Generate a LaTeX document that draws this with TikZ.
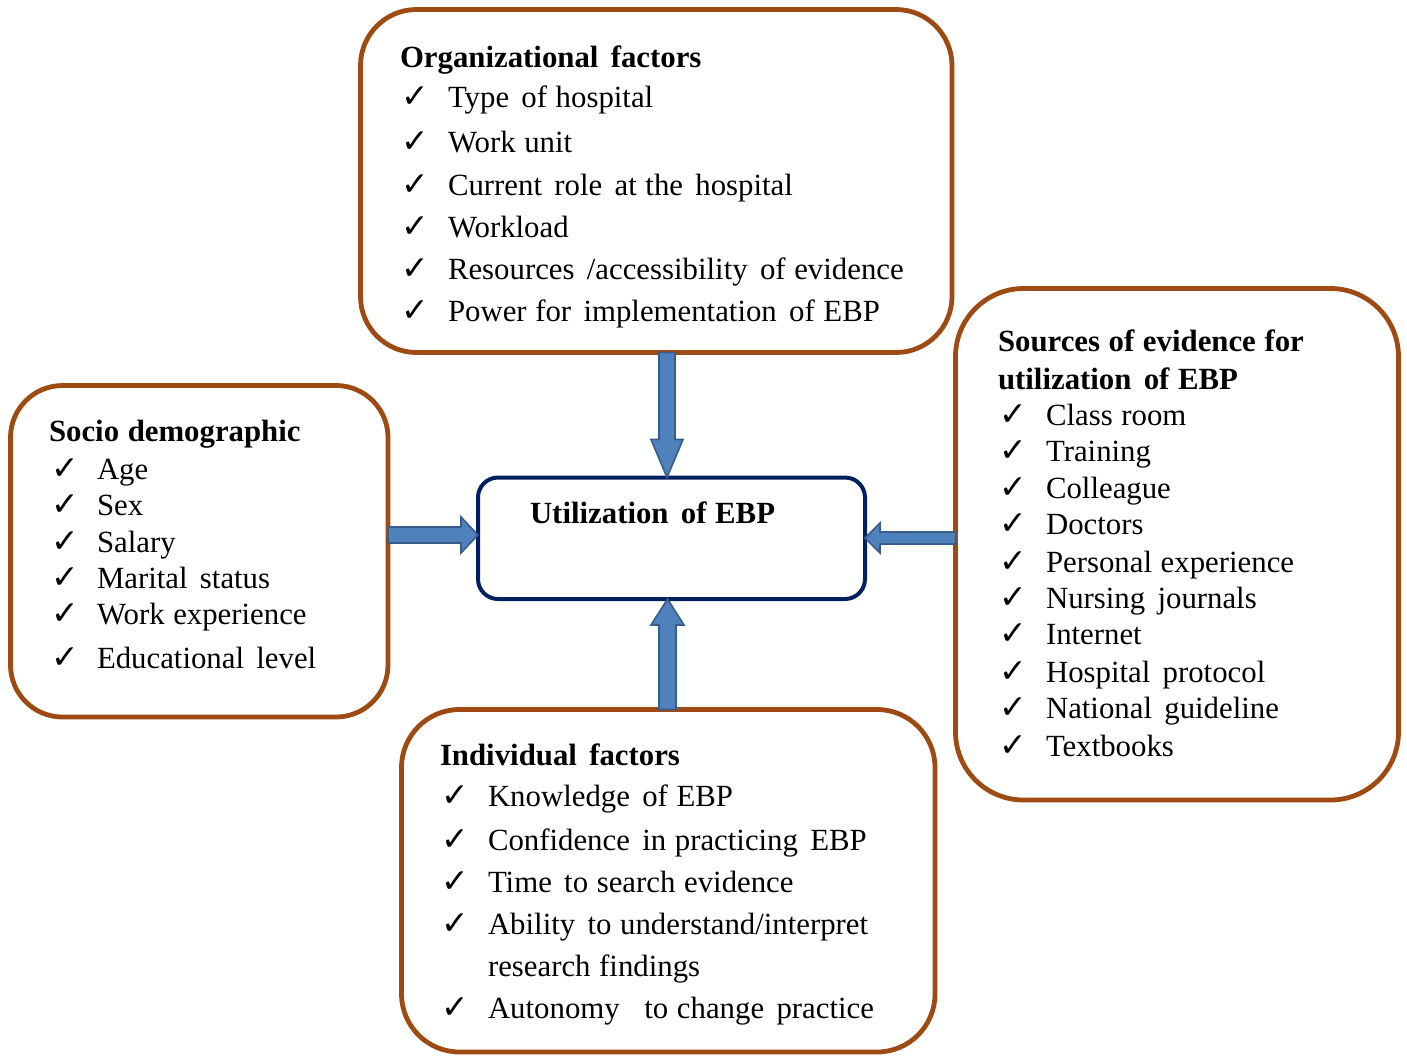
\documentclass[tikz,border=0pt]{standalone}
\usepackage{fontspec}
\setmainfont{Liberation Serif}
\newfontfamily\chkfont{DejaVu Sans}
\usetikzlibrary{calc}
\definecolor{boxbrown}{HTML}{9E4B13}
\definecolor{boxnavy}{HTML}{002060}
\definecolor{arrfill}{HTML}{4F81BD}
\definecolor{arrline}{HTML}{385D8A}
\newcommand\fsz{\fontsize{15.4}{18}\selectfont\spaceskip=0.28em plus 0.1em\relax}
\newcommand\ds{\hspace{0.12em}\ }
\newcommand\chk{{\chkfont\bfseries\fontsize{16.5}{18}\selectfont ✓}}
\newcommand\blockarr[5]{%
  \coordinate (hb) at ($(#5)!#3!(#4)$);
  \draw[barrow] ($(#4)!#1!90:(#5)$) -- ($(hb)!#1!90:(#5)$) -- ($(hb)!#2!90:(#5)$)
    -- (#5) -- ($(hb)!#2!-90:(#5)$) -- ($(hb)!#1!-90:(#5)$) -- ($(#4)!#1!-90:(#5)$) -- cycle;}
\tikzset{
  box/.style={draw=boxbrown, line width=2.4pt, fill=white, outer sep=0pt, inner sep=0pt},
  cbox/.style={draw=boxnavy, line width=2pt, fill=white, outer sep=0pt, inner sep=0pt, rounded corners=10pt},
  txt/.style={anchor=base west, inner sep=0pt, outer sep=0pt, font=\fsz},
  ttl/.style={txt, font=\fsz\bfseries},
  barrow/.style={fill=arrfill, draw=arrline, line width=0.8pt, line join=miter},
}
\begin{document}
\begin{tikzpicture}[x=0.5pt,y=-0.5pt]
\useasboundingbox (0,0) rectangle (1407,1057);
% boxes
\node[box, rounded corners=28pt, minimum width=295.75pt, minimum height=171.5pt] (org) at (656.25,181) {};
\node[box, rounded corners=26pt, minimum width=188.75pt, minimum height=165.75pt] (soc) at (199.25,551.25) {};
\node[cbox, minimum width=193.5pt, minimum height=60.75pt] (ctr) at (671.5,538.25) {};
\node[box, rounded corners=34pt, minimum width=221.5pt, minimum height=255.75pt] (src) at (1177,544.25) {};
\node[box, rounded corners=29pt, minimum width=266.75pt, minimum height=171.25pt] (ind) at (668.25,880.75) {};
% organizational
\node[ttl] (orgt) at (400,67) {Organizational\ds factors};
\foreach \yy/\tt [count=\i] in {107/{Type\ds of hospital}, 152/{Work unit}, 195/{Current\ds role\ds at the\ds hospital}, 237/{Workload}, 279/{Resources\ds /accessibility\ds of evidence}, 321/{Power for\ds implementation\ds of EBP}}{
  \node[txt] (orgc\i) at (401,\yy) {\chk};
  \node[txt] (orgi\i) at (448,\yy) {\tt};
}
% socio demographic
\node[ttl] (soct) at (49,441) {Socio demographic};
\foreach \yy/\tt [count=\i] in {479/{Age}, 515/{Sex}, 552/{Salary}, 588/{Marital\ds status}, 624/{Work experience}, 668/{Educational\ds level}}{
  \node[txt] (socc\i) at (51,\yy) {\chk};
  \node[txt] (soci\i) at (97,\yy) {\tt};
}
% centre
\node[ttl] (ctrt) at (530,523) {Utilization\ds of EBP};
% sources
\node[ttl] (srct1) at (998,351) {Sources of evidence for};
\node[ttl] (srct2) at (998,389) {utilization\ds of EBP};
\foreach \yy/\tt [count=\i] in {425/{Class room}, 461/{Training}, 498/{Colleague}, 534/{Doctors}, 572/{Personal experience}, 608/{Nursing\ds journals}, 644/{Internet}, 682/{Hospital\ds protocol}, 718/{National\ds guideline}, 756/{Textbooks}}{
  \node[txt] (srcc\i) at (999,\yy) {\chk};
  \node[txt] (srci\i) at (1046,\yy) {\tt};
}
% individual
\node[ttl] (indt) at (440,765) {Individual\ds factors};
\foreach \yy/\tt [count=\i] in {806/{Knowledge\ds of EBP}, 850/{Confidence\ds in practicing\ds EBP}, 892/{Time\ds to search evidence}, 934/{Ability\ds to understand/interpret}}{
  \node[txt] (indc\i) at (441,\yy) {\chk};
  \node[txt] (indi\i) at (488,\yy) {\tt};
}
\node[txt] (indi5) at (488,976) {research findings};
\node[txt] (indc6) at (441,1018) {\chk};
\node[txt] (indi6) at (488,1018) {Autonomy\ds\ds to change\ds practice};
% arrows
\coordinate (vx) at (667,0);
\coordinate (vx2) at (667.5,0);
\coordinate (hy) at (0,535);
\coordinate (hy2) at (0,538);
\blockarr{4pt}{8pt}{19pt}{org.south -| vx}{ctr.north -| vx}
\blockarr{4.25pt}{8.25pt}{13pt}{ind.north -| vx2}{ctr.south -| vx2}
\blockarr{4pt}{9pt}{8.5pt}{soc.east |- hy}{ctr.west |- hy}
\blockarr{3pt}{7.5pt}{7.5pt}{src.west |- hy2}{ctr.east |- hy2}
\end{tikzpicture}
\end{document}
